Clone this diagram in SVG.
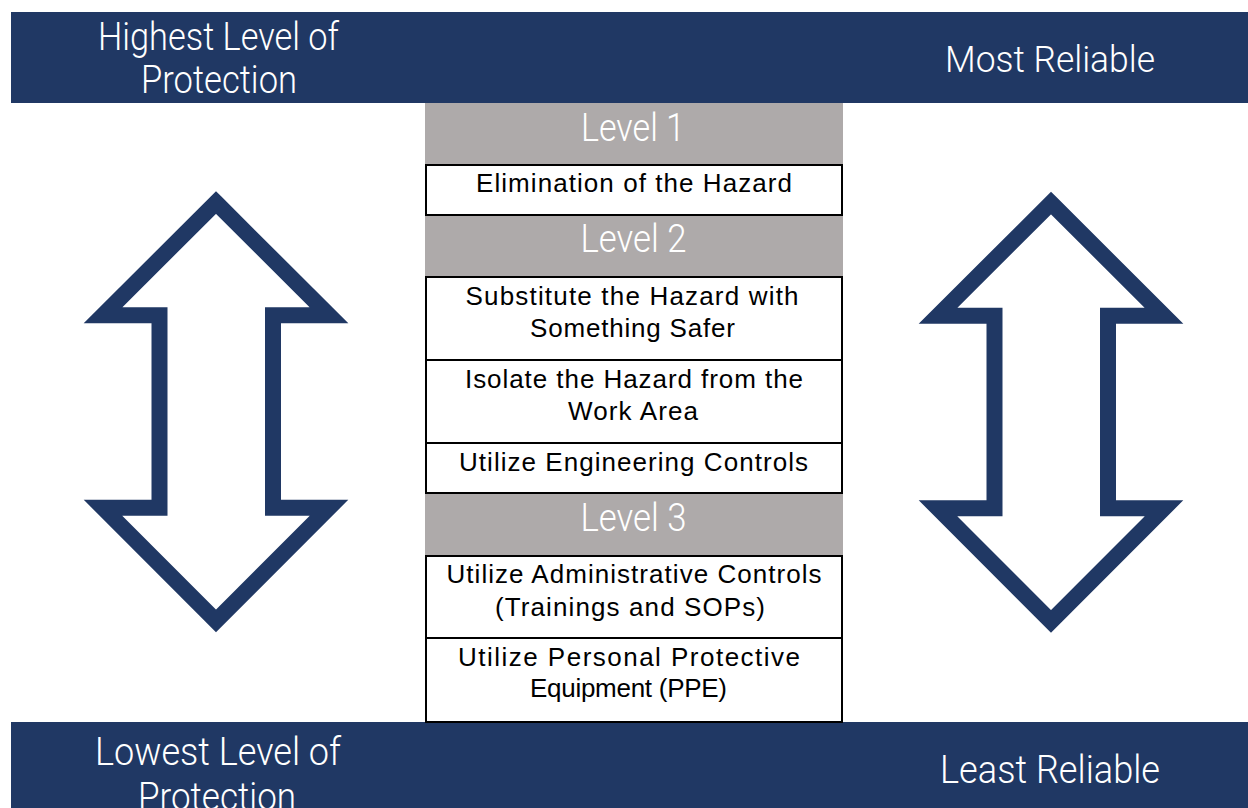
<svg xmlns="http://www.w3.org/2000/svg" width="1248" height="808" viewBox="0 0 1248 808">
<style>
.banner{fill:#203864}
.band{fill:#AEAAAA}
.box{fill:#ffffff;stroke:#000000;stroke-width:2}
.arrow{fill:#ffffff;stroke:#203864;stroke-width:16;stroke-linejoin:miter;stroke-miterlimit:10}
.head{font-family:Roboto,"Liberation Sans",sans-serif;font-weight:300;fill:#ffffff;text-anchor:middle}
.lvl{font-family:Roboto,"Liberation Sans",sans-serif;font-weight:300;font-size:38px;fill:#ffffff;text-anchor:middle}
.txt{font-family:"Liberation Sans",Arial,sans-serif;font-size:26px;fill:#000000;text-anchor:middle}
</style>
<rect width="1248" height="808" fill="#ffffff"/>
<g id="top-banner">
<rect class="banner" x="11" y="12" width="1237" height="91"/>
<text class="head" font-size="39" x="218.5" y="50" textLength="241" lengthAdjust="spacingAndGlyphs">Highest Level of</text>
<text class="head" font-size="39" x="219" y="93" textLength="156" lengthAdjust="spacingAndGlyphs">Protection</text>
<text class="head" font-size="37" x="1050" y="72" textLength="210" lengthAdjust="spacingAndGlyphs">Most Reliable</text>
</g>
<g id="bottom-banner">
<rect class="banner" x="11" y="722" width="1237" height="86"/>
<text class="head" font-size="39" x="218" y="765" textLength="246" lengthAdjust="spacingAndGlyphs">Lowest Level of</text>
<text class="head" font-size="39" x="217" y="810" textLength="158" lengthAdjust="spacingAndGlyphs">Protection</text>
<text class="head" font-size="39" x="1050" y="783" textLength="220" lengthAdjust="spacingAndGlyphs">Least Reliable</text>
</g>
<g id="level1">
<rect class="band" x="425" y="103" width="418" height="61"/>
<text class="lvl" x="633" y="141" textLength="104" lengthAdjust="spacingAndGlyphs">Level 1</text>
</g>
<g id="elimination">
<rect class="box" x="426" y="165" width="416" height="50"/>
<text class="txt" x="634" y="192" textLength="316" lengthAdjust="spacing">Elimination of the Hazard</text>
</g>
<g id="level2">
<rect class="band" x="425" y="216" width="418" height="60"/>
<text class="lvl" x="633.5" y="252" textLength="106" lengthAdjust="spacingAndGlyphs">Level 2</text>
</g>
<g id="substitute">
<rect class="box" x="426" y="277" width="416" height="83"/>
<text class="txt" x="632" y="305" textLength="333" lengthAdjust="spacing">Substitute the Hazard with</text>
<text class="txt" x="632.5" y="337" textLength="205" lengthAdjust="spacing">Something Safer</text>
</g>
<g id="isolate">
<rect class="box" x="426" y="360" width="416" height="83"/>
<text class="txt" x="634" y="388" textLength="338" lengthAdjust="spacing">Isolate the Hazard from the</text>
<text class="txt" x="633" y="420" textLength="130" lengthAdjust="spacing">Work Area</text>
</g>
<g id="engineering">
<rect class="box" x="426" y="443" width="416" height="50"/>
<text class="txt" x="633.5" y="471" textLength="349" lengthAdjust="spacing">Utilize Engineering Controls</text>
</g>
<g id="level3">
<rect class="band" x="425" y="494" width="418" height="61"/>
<text class="lvl" x="633.5" y="531" textLength="106" lengthAdjust="spacingAndGlyphs">Level 3</text>
</g>
<g id="administrative">
<rect class="box" x="426" y="556" width="416" height="82"/>
<text class="txt" x="634" y="583" textLength="375" lengthAdjust="spacing">Utilize Administrative Controls</text>
<text class="txt" x="630" y="616" textLength="270" lengthAdjust="spacing">(Trainings and SOPs)</text>
</g>
<g id="ppe">
<rect class="box" x="426" y="638" width="416" height="84"/>
<text class="txt" x="629" y="666" textLength="342" lengthAdjust="spacing">Utilize Personal Protective</text>
<text class="txt" x="628.5" y="697" textLength="197" lengthAdjust="spacing">Equipment (PPE)</text>
</g>
<g id="left-arrow">
<path class="arrow" d="M216,202.5 L329,315.3 L273,315.3 L273,507.8 L329,507.8 L216,621 L103,507.8 L159.5,507.8 L159.5,315.3 L103,315.3 Z"/>
</g>
<g id="right-arrow">
<path class="arrow" d="M1051,203 L1164,315.8 L1108,315.8 L1108,508.3 L1164,508.3 L1051,621.5 L938,508.3 L994.5,508.3 L994.5,315.8 L938,315.8 Z"/>
</g>
<g id="connectors"></g>
</svg>
